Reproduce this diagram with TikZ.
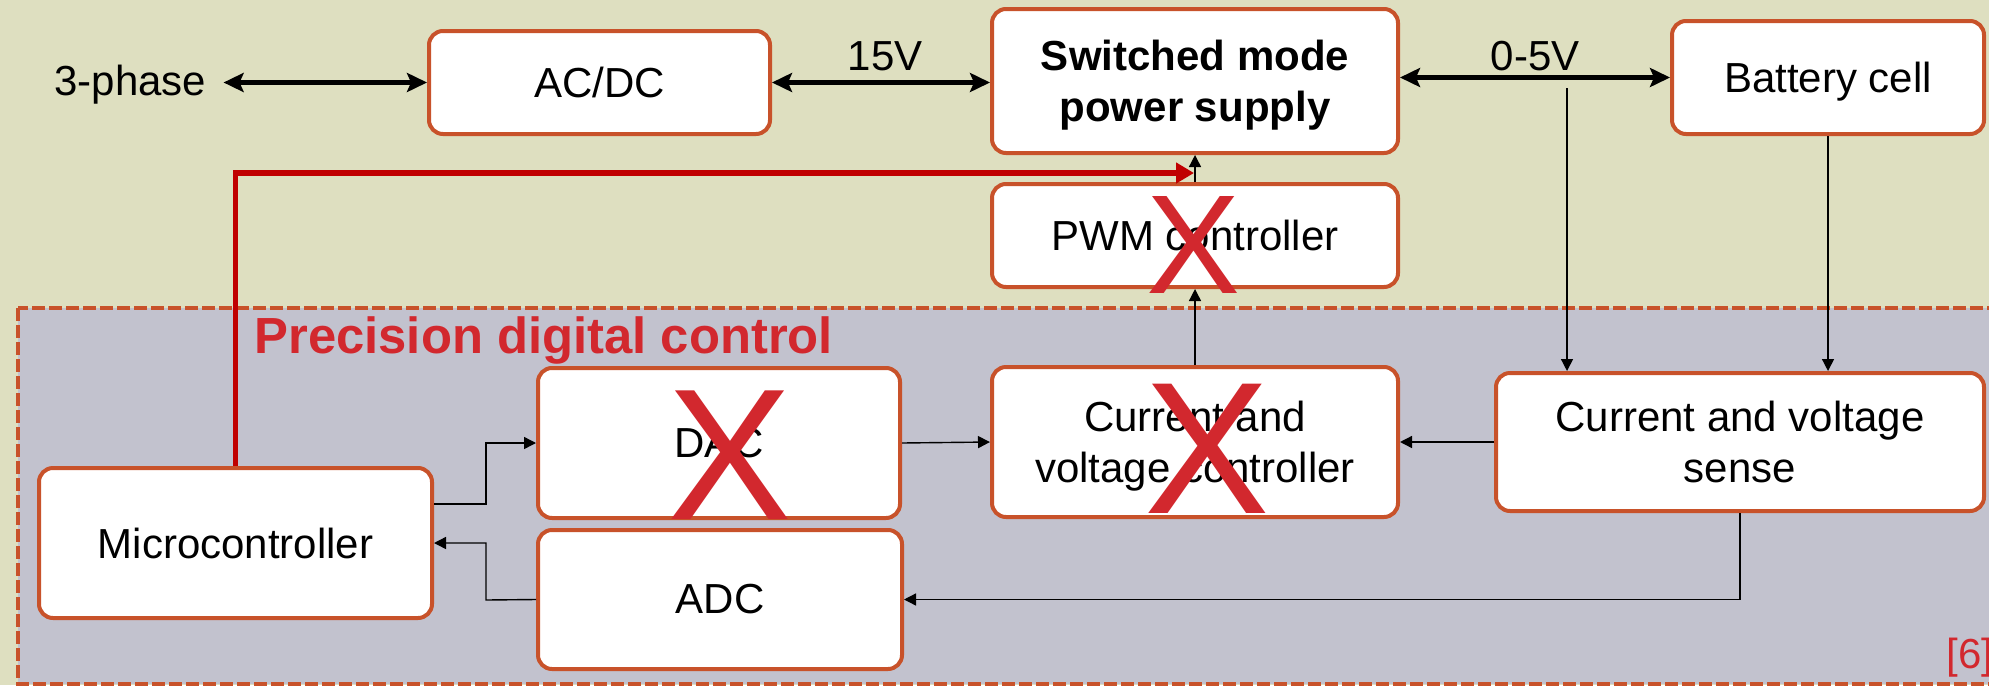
\documentclass[tikz,border=0pt]{standalone}
\usepackage{fontspec}
\setmainfont{Liberation Sans}
\usetikzlibrary{arrows.meta,calc}
\definecolor{bgtop}{HTML}{DEDFC0}
\definecolor{bglow}{HTML}{C2C2CE}
\definecolor{boxorange}{HTML}{C8522A}
\definecolor{darkred}{HTML}{C00000}
\definecolor{markred}{HTML}{D2282E}
\begin{document}
\begin{tikzpicture}[x=0.5pt,y=-0.5pt,
  font=\fontsize{21}{25.5}\selectfont,
  box/.style={draw=boxorange, line width=2pt, fill=white, rounded corners=7pt, inner sep=0pt, align=center},
  thinarrow/.style={draw=black, line width=0.7pt, -{Triangle[length=6pt,width=6pt]}},
  thickarrow/.style={draw=black, line width=2.2pt, {Stealth[length=10pt,width=9.5pt,inset=2pt]}-{Stealth[length=10pt,width=9.5pt,inset=2pt]}},
  redarrow/.style={draw=darkred, line width=2.75pt, -{Triangle[length=9pt,width=10pt]}},
  xmark/.style={text=markred, inner sep=0pt, anchor=base},
  lbl/.style={inner sep=0pt}
]
\useasboundingbox (0,0) rectangle (1989,685);
\clip (0,0) rectangle (1989,685);
\fill[bgtop] (0,0) rectangle (1989,685);
\draw[boxorange, line width=2pt, dash pattern=on 6.5pt off 2pt, fill=bglow] (18,308) rectangle (2010,684);

% boxes
\node[box, minimum width=170.5pt, minimum height=51.5pt] (acdc) at (599.5,82.5) {AC/DC};
\node[box, minimum width=203pt, minimum height=72pt, text depth=0pt, font=\bfseries\fontsize{21}{25.5}\selectfont] (smps) at (1195,81) {Switched mode\\power supply};
\node[box, minimum width=156pt, minimum height=56.5pt, text depth=0pt] (bat) at (1828,77.5) {Battery cell};
\node[box, minimum width=203pt, minimum height=51.5pt] (pwm) at (1195,235.5) {PWM controller};
\node[box, minimum width=181pt, minimum height=75pt] (dac) at (719,443) {DAC};
\node[box, minimum width=182pt, minimum height=69.5pt] (adc) at (720,599.5) {ADC};
\node[box, minimum width=196.5pt, minimum height=75pt] (micro) at (235.5,543) {Microcontroller};
\node[box, minimum width=203pt, minimum height=75pt, text depth=0pt] (cvc) at (1195,442) {Current and\\voltage controller};
\node[box, minimum width=244pt, minimum height=69pt] (cs) at (1740,442) {Current and voltage\\sense};

% free labels
\node[lbl, anchor=base west] (phase) at (54,95) {3-phase};
\node[lbl, anchor=base] (v15) at (885,70) {15V};
\node[lbl, anchor=base] (v05) at (1535,70) {0-5V};
\node[lbl, anchor=base west, text=markred, font=\bfseries\fontsize{25.4}{30}\selectfont] (title) at (254,353) {Precision digital control};
\node[lbl, anchor=base west, text=markred] (ref) at (1946,668) {[6]};

% power arrows
\draw[thickarrow] ($(phase.east |- acdc.west)+(17,0)$) -- (acdc.west);
\draw[thickarrow] (acdc.east) -- (acdc.east -| smps.west);
\draw[thickarrow] (smps.east |- bat.west) -- (bat.west);

% control arrows
\coordinate (tap) at (1567,88);
\draw[thinarrow] (tap) -- (tap |- cs.north);
\draw[thinarrow] (bat.south) -- (bat.south |- cs.north);
\draw[thinarrow] (cs.west) -- (cvc.east);
\draw[thinarrow] (dac.east) -- (cvc.west);
\draw[thinarrow] (cvc.north) -- (pwm.south);
\draw[thinarrow] (pwm.north) -- (smps.south);
\draw[thinarrow] (cs.south) |- (adc.east);
\coordinate (j1) at (486,504);
\coordinate (j2) at (486,600);
\draw[thinarrow] (micro.east |- j1) -- (j1) |- (dac.west);
\draw[thinarrow] (adc.west) -- (j2) |- (micro.east);
\coordinate (redend) at (1194,173);
\draw[redarrow] (micro.north) -- (micro.north |- redend) -- (redend);

% crosses
\node[xmark, font=\fontsize{93.5}{93.5}\selectfont] (xdac) at (730,519) {X};
\node[xmark, font=\fontsize{94}{94}\selectfont] (xcvc) at (1207,513) {X};
\node[xmark, font=\fontsize{70.5}{70.5}\selectfont] (xpwm) at (1194,293) {X};
\end{tikzpicture}
\end{document}
